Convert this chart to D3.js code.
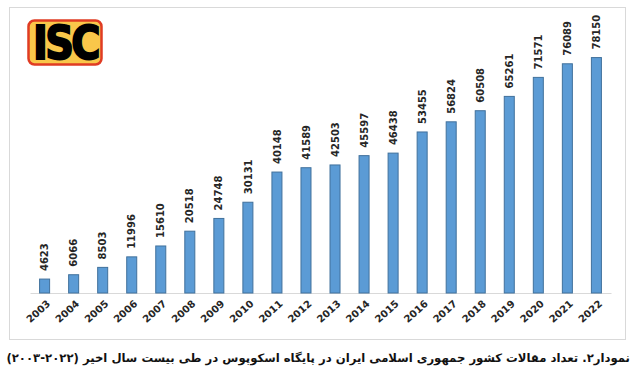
<!DOCTYPE html>
<html>
<head>
<meta charset="utf-8">
<script src="https://cdn.jsdelivr.net/npm/d3@7"></script>
<style>
  body { margin: 0; background: #fff; }
  text { font-family: "DejaVu Sans", sans-serif; }
</style>
</head>
<body>
<div id="vis1"></div>
<script>
const years = ["2003", "2004", "2005", "2006", "2007", "2008", "2009", "2010", "2011", "2012",
    "2013", "2014", "2015", "2016", "2017", "2018", "2019", "2020", "2021", "2022"]
const articles = [4623, 6066, 8503, 11996, 15610, 20518, 24748, 30131, 40148, 41589,
    42503, 45597, 46438, 53455, 56824, 60508, 65261, 71571, 76089, 78150]
const caption = "نمودار۲. تعداد مقالات کشور جمهوری اسلامی ایران در پایگاه اسکوپوس در طی بیست سال اخیر (۲۰۲۲-۲۰۰۳)"
const logoText = "ISC"

const data = years.map((y, i) => ({ year: y, value: articles[i] }))

const svg = d3.select("#vis1")
    .append("svg")
    .attr("width", 640)
    .attr("height", 375)

// chart frame
svg.append("rect")
    .attr("x", 9.5)
    .attr("y", 7.5)
    .attr("width", 616)
    .attr("height", 332)
    .attr("fill", "white")
    .attr("stroke", "#d9d9d9")

// scales
const X_SCALE = d3.scaleBand()
    .domain(years)
    .range([30, 611])
    .paddingInner(0.655)
    .paddingOuter(0.33)

const Y_SCALE = d3.scaleLinear()
    .domain([0, 80000])
    .range([293, 52])

// baseline axis
svg.append("g")
    .attr("transform", "translate(0,293)")
    .call(d3.axisBottom(X_SCALE).tickSize(0).tickFormat(""))
    .call(g => g.select(".domain").attr("stroke", "#d9d9d9").attr("stroke-width", 1.2))

// bars
svg.selectAll(".bar")
    .data(data)
    .enter()
    .append("rect")
    .attr("class", "bar")
    .attr("x", d => X_SCALE(d.year))
    .attr("y", d => Y_SCALE(d.value))
    .attr("width", X_SCALE.bandwidth())
    .attr("height", d => Y_SCALE(0) - Y_SCALE(d.value))
    .attr("fill", "#5b9bd5")
    .attr("stroke", "#41719c")
    .attr("stroke-width", 1)

// value labels
svg.selectAll(".val")
    .data(data)
    .enter()
    .append("text")
    .attr("class", "val")
    .attr("transform", d => "translate(" + (X_SCALE(d.year) + X_SCALE.bandwidth() / 2) + "," + (Y_SCALE(d.value) - 8) + ") rotate(-90)")
    .attr("dy", "0.36em")
    .attr("font-size", "10px")
    .attr("font-weight", "bold")
    .attr("fill", "#262626")
    .text(d => d.value)

// year labels
svg.selectAll(".yr")
    .data(data)
    .enter()
    .append("text")
    .attr("class", "yr")
    .attr("transform", d => "translate(" + (X_SCALE(d.year) + X_SCALE.bandwidth() / 2 + 4) + ",302) rotate(-42)")
    .attr("text-anchor", "end")
    .attr("dy", "0.36em")
    .attr("font-size", "10px")
    .attr("font-weight", "bold")
    .attr("fill", "#262626")
    .text(d => d.year)

// ISC logo
svg.append("rect")
    .attr("x", 28.5)
    .attr("y", 20.5)
    .attr("width", 73)
    .attr("height", 44)
    .attr("rx", 6)
    .attr("fill", "#f9c74a")
    .attr("stroke", "#e03c23")
    .attr("stroke-width", 2.5)

svg.append("text")
    .attr("x", 33)
    .attr("y", 59)
    .attr("font-size", "46px")
    .attr("font-weight", "900")
    .attr("fill", "#000")
    .attr("stroke", "#000")
    .attr("stroke-width", 2)
    .attr("textLength", 65)
    .attr("lengthAdjust", "spacingAndGlyphs")
    .style("font-family", "'DejaVu Sans', sans-serif")
    .style("letter-spacing", "-3px")
    .text(logoText)

// caption
const cap = svg.append("text")
    .attr("x", 630)
    .attr("y", 362)
    .attr("direction", "rtl")
    .attr("text-anchor", "start")
    .attr("font-size", "13px")
    .attr("font-weight", "bold")
    .attr("fill", "#111")
    .text(caption)

const capLen = cap.node().getComputedTextLength()
cap.attr("font-size", (13 * 624 / capLen) + "px")
</script>
</body>
</html>
